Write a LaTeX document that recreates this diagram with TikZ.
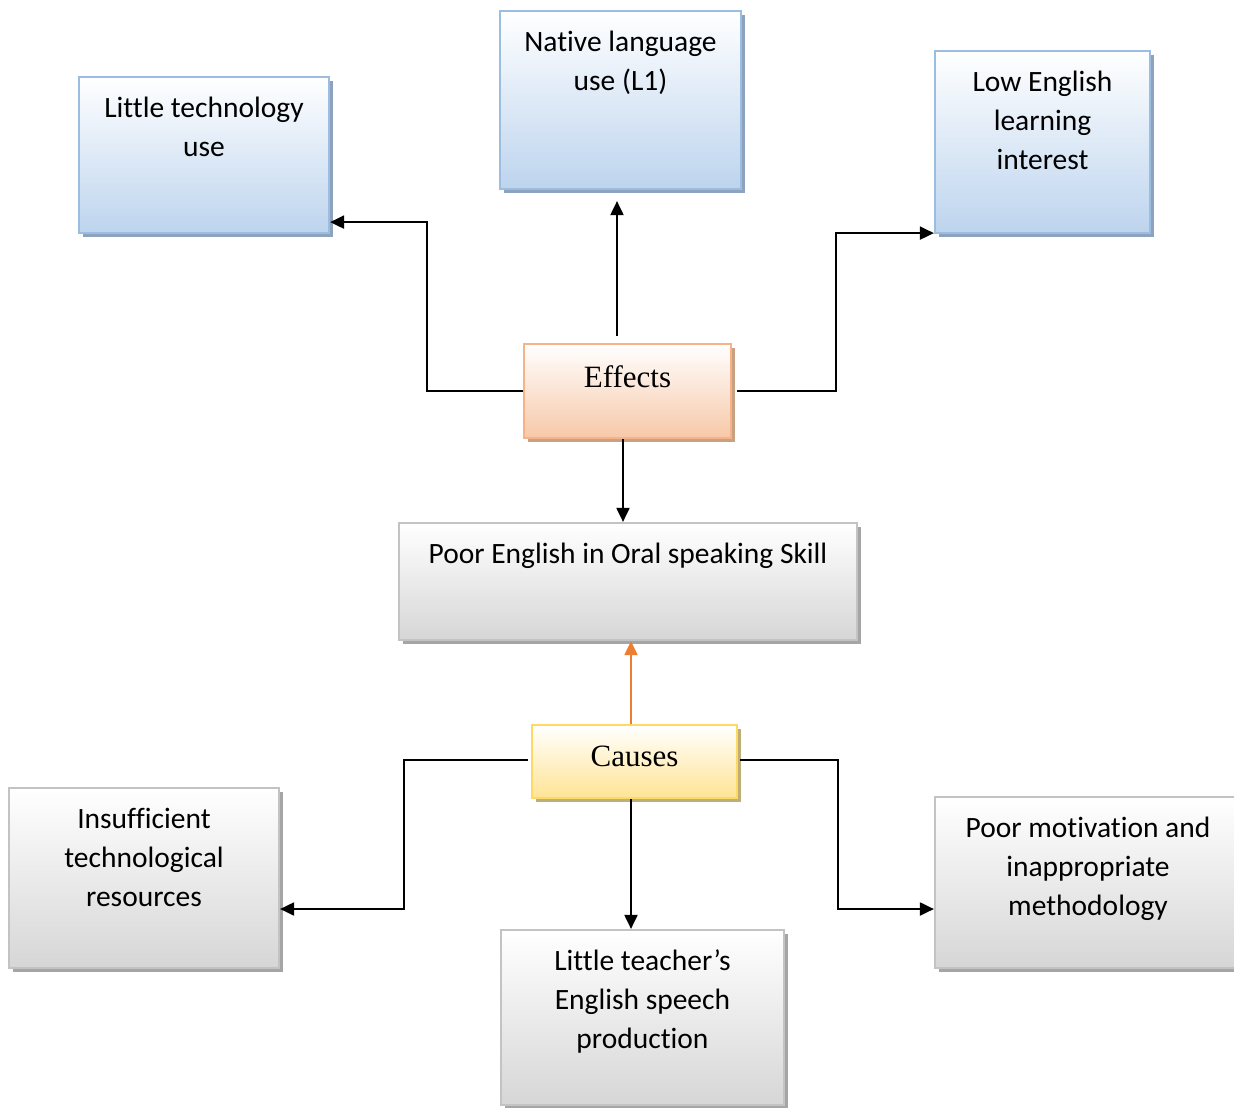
\documentclass[tikz,border=0pt]{standalone}
\usepackage{fontspec}
\setmainfont[Ligatures={NoCommon}]{Carlito}
\newfontfamily\tnr{Liberation Serif}
\usetikzlibrary{arrows.meta,shadows,calc}
\definecolor{bluebd}{RGB}{155,190,224}
\definecolor{bluefill}{RGB}{189,212,238}
\definecolor{blueshd}{RGB}{140,162,190}
\definecolor{orbd}{RGB}{247,178,136}
\definecolor{orfill}{RGB}{247,200,168}
\definecolor{orshd}{RGB}{200,160,130}
\definecolor{grbd}{RGB}{195,195,195}
\definecolor{grfill}{RGB}{214,214,214}
\definecolor{grshd}{RGB}{165,165,165}
\definecolor{gobd}{RGB}{255,217,102}
\definecolor{gofill}{RGB}{255,228,148}
\definecolor{goshd}{RGB}{190,175,120}
\definecolor{orarrow}{RGB}{237,125,49}
\tikzset{
  boxbase/.style={rectangle, inner sep=0pt, line width=2.2pt},
  bluebox/.style={boxbase, draw=bluebd, top color=white, bottom color=bluefill,
    drop shadow={shadow xshift=4pt, shadow yshift=-4pt, fill=blueshd, opacity=1}},
  orbox/.style={boxbase, draw=orbd, top color=white, bottom color=orfill,
    drop shadow={shadow xshift=4pt, shadow yshift=-4pt, fill=orshd, opacity=1}},
  grbox/.style={boxbase, draw=grbd, top color=white, bottom color=grfill,
    drop shadow={shadow xshift=4pt, shadow yshift=-4pt, fill=grshd, opacity=1}},
  gobox/.style={boxbase, draw=gobd, top color=white, bottom color=gofill,
    drop shadow={shadow xshift=4pt, shadow yshift=-4pt, fill=goshd, opacity=1}},
  txt/.style={inner sep=0pt, align=center, anchor=north, font=\fontsize{29.5}{39}\selectfont},
  serif/.style={inner sep=0pt, anchor=base, font=\tnr\fontsize{31}{37}\selectfont},
  arr/.style={line width=2pt, -{Triangle[length=14pt,width=13pt]}},
  oarr/.style={line width=2pt, draw=orarrow, -{Triangle[length=14pt,width=13pt]}}
}
\begin{document}
\begin{tikzpicture}[x=1pt,y=-1pt]
\useasboundingbox (0,0) rectangle (1234,1108);
% boxes
\node[bluebox, minimum width=250pt, minimum height=156pt] (tech) at (204,155) {};
\node[bluebox, minimum width=241pt, minimum height=178pt] (native) at (620.5,100) {};
\node[bluebox, minimum width=215pt, minimum height=182pt] (low) at (1042.5,142) {};
\node[orbox, minimum width=207pt, minimum height=94pt] (effects) at (627.5,391) {};
\node[grbox, minimum width=458pt, minimum height=117pt] (poor) at (628,581.5) {};
\node[gobox, minimum width=205pt, minimum height=73pt] (causes) at (634.5,761.5) {};
\node[grbox, minimum width=270pt, minimum height=180pt] (insuff) at (144,878) {};
\node[grbox, minimum width=283pt, minimum height=175pt] (teacher) at (642.5,1017.5) {};
\node[grbox, minimum width=306pt, minimum height=171pt] (motiv) at (1088,882.5) {};
% texts
\node[txt] (techT) at ([yshift=-21pt]tech.north) {Little technology\\use};
\node[txt] (nativeT) at ([yshift=-21pt]native.north) {Native language\\use (L1)};
\node[txt] (lowT) at ([yshift=-21pt]low.north) {Low English\\learning\\interest};
\node[serif] (effectsT) at ([yshift=-45pt]effects.north) {Effects};
\node[txt] (poorT) at ([yshift=-21pt]poor.north) {Poor English in Oral speaking Skill};
\node[serif] (causesT) at ([yshift=-43pt]causes.north) {Causes};
\node[txt] (insuffT) at ([yshift=-21pt]insuff.north) {Insufficient\\technological\\resources};
\node[txt] (teacherT) at ([yshift=-21pt]teacher.north) {Little teacher’s\\English speech\\production};
\node[txt] (motivT) at ([yshift=-21pt]motiv.north) {Poor motivation and\\inappropriate\\methodology};
% connector bends
\coordinate (b1) at (427,391);
\coordinate (b2) at (836,391);
\coordinate (b3) at (404,760);
\coordinate (b4) at (838,760);
% connectors
\draw[arr] (effects.west) -- (b1) |- ([yshift=12pt]tech.south east);
\draw[arr] ([xshift=-10.5pt,yshift=7pt]effects.north) -- ([xshift=-3.5pt,yshift=-11pt]native.south);
\draw[arr] ([xshift=5pt]effects.east) -- (b2) |- ([yshift=1pt]low.south west);
\draw[arr] ([xshift=-4.5pt]effects.south) -- ([xshift=-5pt]poor.north);
\draw[oarr] ([xshift=-3.5pt]causes.north) -- ([xshift=3pt]poor.south);
\draw[arr] ([xshift=-3pt,yshift=1.5pt]causes.west) -- (b3) |- ([yshift=-31pt]insuff.east);
\draw[arr] ([xshift=-3.5pt]causes.south) -- ([xshift=-11.5pt]teacher.north);
\draw[arr] ([xshift=2pt,yshift=1.5pt]causes.east) -- (b4) |- ([yshift=-26.5pt]motiv.west);
\end{tikzpicture}
\end{document}
